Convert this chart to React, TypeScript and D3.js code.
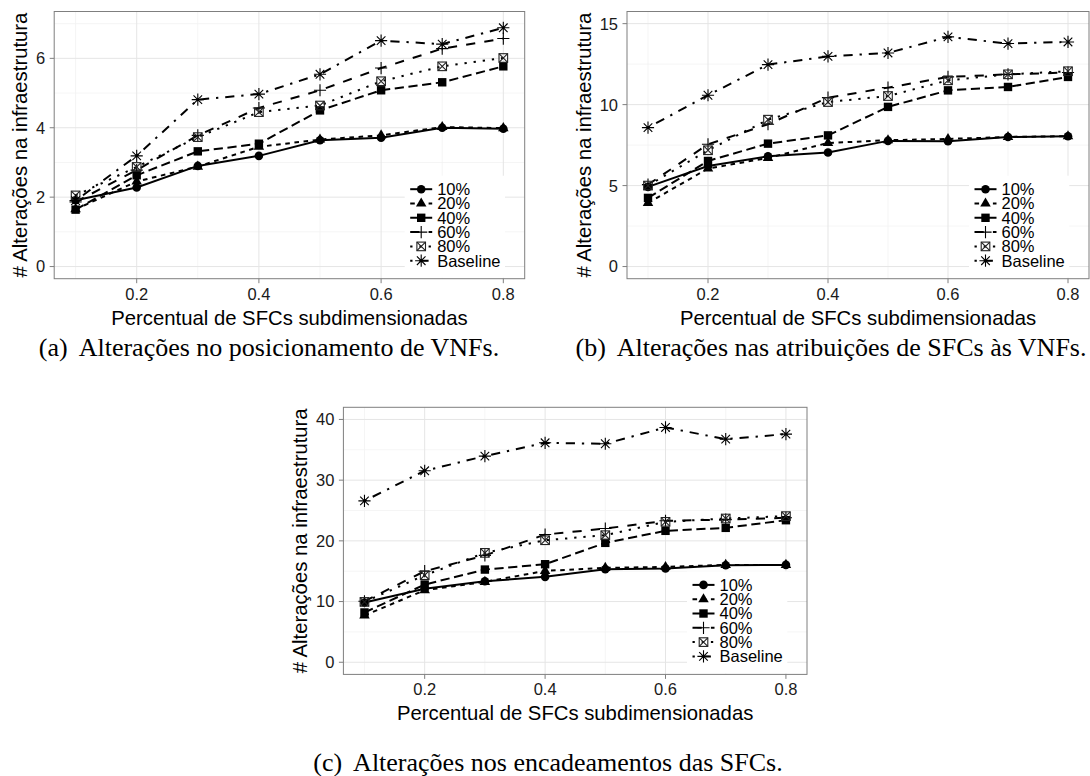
import React from 'react';
import * as d3 from 'd3';

// x positions shared by all three panels
const xValues = [0.1, 0.2, 0.3, 0.4, 0.5, 0.6, 0.7, 0.8];
const xTicks = [0.2, 0.4, 0.6, 0.8];
const xMinor = [0.1, 0.3, 0.5, 0.7];
const seriesNames = ['10%', '20%', '40%', '60%', '80%', 'Baseline'];

// (a) posicionamento de VNFs
const posic10 = [1.91, 2.28, 2.9, 3.19, 3.64, 3.71, 4.0, 3.97];
const posic20 = [1.65, 2.45, 2.88, 3.45, 3.66, 3.78, 4.02, 3.99];
const posic40 = [1.64, 2.63, 3.32, 3.54, 4.5, 5.08, 5.31, 5.77];
const posic60 = [1.86, 2.78, 3.78, 4.57, 5.08, 5.72, 6.28, 6.57];
const posic80 = [2.05, 2.87, 3.73, 4.45, 4.64, 5.34, 5.77, 6.01];
const posicBase = [1.9, 3.19, 4.81, 4.97, 5.54, 6.51, 6.41, 6.88];
const yTicksA = [0, 2, 4, 6];
const yMinorA = [1, 3, 5, 7];

// (b) atribuicoes de SFCs as VNFs
const atrib10 = [4.92, 6.21, 6.81, 7.04, 7.76, 7.74, 8.0, 8.05];
const atrib20 = [3.93, 6.05, 6.71, 7.63, 7.8, 7.88, 8.0, 8.05];
const atrib40 = [4.24, 6.52, 7.59, 8.1, 9.86, 10.88, 11.09, 11.71];
const atrib60 = [5.06, 7.55, 8.79, 10.43, 11.05, 11.71, 11.87, 11.98];
const atrib80 = [5.0, 7.18, 9.07, 10.16, 10.53, 11.5, 11.87, 12.06];
const atribBase = [8.58, 10.58, 12.47, 12.98, 13.19, 14.18, 13.77, 13.87];
const yTicksB = [0, 5, 10, 15];
const yMinorB = [2.5, 7.5, 12.5];

// (c) encadeamentos das SFCs
const encad10 = [9.84, 12.1, 13.35, 14.07, 15.33, 15.44, 15.99, 16.04];
const encad20 = [7.7, 11.87, 13.24, 15.05, 15.55, 15.7, 16.04, 16.04];
const encad40 = [8.2, 12.8, 15.27, 16.15, 19.67, 21.65, 22.14, 23.4];
const encad60 = [10.05, 15.0, 17.6, 21.04, 22.03, 23.3, 23.5, 23.8];
const encad80 = [9.94, 14.34, 18.02, 20.1, 20.93, 23.13, 23.68, 24.07];
const encadBase = [26.59, 31.54, 33.96, 36.15, 35.99, 38.68, 36.76, 37.58];
const yTicksC = [0, 10, 20, 30, 40];
const yMinorC = [5, 15, 25, 35];

// ggplot default linetypes: solid, 22, 42, 44, 13, 1343
const dashUnits = [[], [2, 2], [4, 2], [4, 4], [1, 3], [1, 3, 4, 3]];
const shapes = ['circle', 'triangle', 'square', 'plus', 'squareCross', 'asterisk'];

const SANS = '"Liberation Sans", Arial, Helvetica, sans-serif';
const SERIF = '"Liberation Serif", "Times New Roman", serif';
const LWD = 2;
const UNIT = 2.3;

const Marker = ({ shape, x, y }: { shape: string; x: number; y: number }) => {
  const R = 4.3;
  if (shape === 'circle') return <circle cx={x} cy={y} r={R} fill="#000" />;
  if (shape === 'square') return <rect x={x - 4.2} y={y - 4.2} width={8.4} height={8.4} fill="#000" />;
  if (shape === 'triangle') {
    const t = 3.9;
    return <path d={`M${x},${y - 1.555 * t}L${x + 1.347 * t},${y + 0.778 * t}L${x - 1.347 * t},${y + 0.778 * t}Z`} fill="#000" />;
  }
  if (shape === 'plus') {
    const a = Math.SQRT2 * R;
    return <path d={`M${x - a},${y}H${x + a}M${x},${y - a}V${y + a}`} stroke="#000" strokeWidth={1.1} fill="none" />;
  }
  if (shape === 'squareCross') {
    return (
      <g stroke="#222" strokeWidth={1.1} fill="none">
        <rect x={x - R} y={y - R} width={2 * R} height={2 * R} />
        <path d={`M${x - R},${y - R}L${x + R},${y + R}M${x - R},${y + R}L${x + R},${y - R}`} />
      </g>
    );
  }
  const a = Math.SQRT2 * R;
  return (
    <path
      d={`M${x - a},${y}H${x + a}M${x},${y - a}V${y + a}M${x - R},${y - R}L${x + R},${y + R}M${x - R},${y + R}L${x + R},${y - R}`}
      stroke="#000"
      strokeWidth={1.1}
      fill="none"
    />
  );
};

type PanelProps = {
  left: number;
  right: number;
  top: number;
  bottom: number;
  yMax: number;
  yTicks: number[];
  yMinor: number[];
  series: number[][];
  caption: string;
  label: string;
  captionX: number;
  captionY: number;
};

const Panel = (p: PanelProps) => {
  const x = d3.scaleLinear().domain([0.065, 0.835]).range([p.left, p.right]);
  const pad = p.yMax * 0.05;
  const y = d3.scaleLinear().domain([-pad, p.yMax + pad]).range([p.bottom, p.top]);
  const line = d3
    .line<number>()
    .x((_, i) => x(xValues[i]))
    .y((d) => y(d));

  const labelRight = p.left - 9;
  const maxLabelW = d3.max(p.yTicks, (t) => String(t).length * 0.556 * 16.5) ?? 0;
  const titleX = labelRight - maxLabelW - 8.6;
  const midY = (p.top + p.bottom) / 2;
  const midX = (p.left + p.right) / 2;

  const legRight = p.right;
  const legBottom = p.bottom;

  return (
    <g>
      <rect x={p.left} y={p.top} width={p.right - p.left} height={p.bottom - p.top} fill="#fff" />
      {/* minor grid */}
      {xMinor.map((t) => (
        <line key={'xm' + t} x1={x(t)} x2={x(t)} y1={p.top} y2={p.bottom} stroke="#f3f3f3" strokeWidth={0.8} />
      ))}
      {p.yMinor.map((t) => (
        <line key={'ym' + t} x1={p.left} x2={p.right} y1={y(t)} y2={y(t)} stroke="#f3f3f3" strokeWidth={0.8} />
      ))}
      {/* major grid */}
      {xTicks.map((t) => (
        <line key={'xg' + t} x1={x(t)} x2={x(t)} y1={p.top} y2={p.bottom} stroke="#e5e5e5" strokeWidth={1} />
      ))}
      {p.yTicks.map((t) => (
        <line key={'yg' + t} x1={p.left} x2={p.right} y1={y(t)} y2={y(t)} stroke="#e5e5e5" strokeWidth={1} />
      ))}

      {/* lines */}
      {p.series.map((s, i) => (
        <path
          key={'l' + i}
          d={line(s) ?? ''}
          fill="none"
          stroke="#000"
          strokeWidth={LWD}
          strokeDasharray={dashUnits[i].length ? dashUnits[i].map((u) => u * UNIT).join(' ') : undefined}
        />
      ))}
      {/* points */}
      {p.series.map((s, i) =>
        s.map((v, j) => <Marker key={'p' + i + '-' + j} shape={shapes[i]} x={x(xValues[j])} y={y(v)} />)
      )}

      {/* legend */}
      <rect x={legRight - 120} y={legBottom - 103} width={100.3} height={102} fill="#fff" />
      {seriesNames.map((name, i) => {
        const cy = legBottom - 89.5 + i * 14.3;
        const cx = legRight - 103.5;
        return (
          <g key={'leg' + i}>
            <line
              x1={cx - 11}
              x2={cx + 11}
              y1={cy}
              y2={cy}
              stroke="#000"
              strokeWidth={LWD}
              strokeDasharray={dashUnits[i].length ? dashUnits[i].map((u) => u * UNIT).join(' ') : undefined}
            />
            <Marker shape={shapes[i]} x={cx} y={cy} />
            <text x={legRight - 87.5} y={cy} dy="0.36em" fontSize={16.5} fontFamily={SANS} fill="#000">
              {name}
            </text>
          </g>
        );
      })}

      <rect x={p.left} y={p.top} width={p.right - p.left} height={p.bottom - p.top} fill="none" stroke="#7f7f7f" strokeWidth={1} />

      {/* axes */}
      {xTicks.map((t) => (
        <g key={'xt' + t}>
          <line x1={x(t)} x2={x(t)} y1={p.bottom} y2={p.bottom + 4.5} stroke="#7f7f7f" />
          <text x={x(t)} y={p.bottom + 21} textAnchor="middle" fontSize={16.5} fontFamily={SANS} fill="#1a1a1a">
            {t}
          </text>
        </g>
      ))}
      {p.yTicks.map((t) => (
        <g key={'yt' + t}>
          <line x1={p.left - 4.5} x2={p.left} y1={y(t)} y2={y(t)} stroke="#7f7f7f" />
          <text x={labelRight} y={y(t)} dy="0.36em" textAnchor="end" fontSize={16.5} fontFamily={SANS} fill="#1a1a1a">
            {t}
          </text>
        </g>
      ))}
      <text x={midX} y={p.bottom + 46} textAnchor="middle" fontSize={20.3} fontFamily={SANS} fill="#000">
        Percentual de SFCs subdimensionadas
      </text>
      <text
        transform={`translate(${titleX},${midY}) rotate(-90)`}
        textAnchor="middle"
        fontSize={20.3}
        fontFamily={SANS}
        fill="#000"
      >
        # Alterações na infraestrutura
      </text>

      <text x={p.captionX} y={p.captionY} textAnchor="middle" fontSize={26} fontFamily={SERIF} fill="#000">
        {p.label}
        <tspan dx={11}>{p.caption}</tspan>
      </text>
    </g>
  );
};

export default function App() {
  return (
    <svg
      width={1090}
      height={776}
      viewBox="0 0 1090 776"
      style={{ position: 'absolute', left: 0, top: 0, background: '#fff' }}
    >
      <rect width={1090} height={776} fill="#fff" />
      <Panel
        left={54.2}
        right={524.7}
        top={11.5}
        bottom={278.7}
        yMax={7}
        yTicks={yTicksA}
        yMinor={yMinorA}
        series={[posic10, posic20, posic40, posic60, posic80, posicBase]}
        label="(a)"
        caption="Alterações no posicionamento de VNFs."
        captionX={269}
        captionY={356}
      />
      <Panel
        left={627}
        right={1089}
        top={11.5}
        bottom={278.7}
        yMax={15}
        yTicks={yTicksB}
        yMinor={yMinorB}
        series={[atrib10, atrib20, atrib40, atrib60, atrib80, atribBase]}
        label="(b)"
        caption="Alterações nas atribuições de SFCs às VNFs."
        captionX={831}
        captionY={356}
      />
      <Panel
        left={343.4}
        right={807}
        top={407.3}
        bottom={674.4}
        yMax={40}
        yTicks={yTicksC}
        yMinor={yMinorC}
        series={[encad10, encad20, encad40, encad60, encad80, encadBase]}
        label="(c)"
        caption="Alterações nos encadeamentos das SFCs."
        captionX={548}
        captionY={771}
      />
    </svg>
  );
}
